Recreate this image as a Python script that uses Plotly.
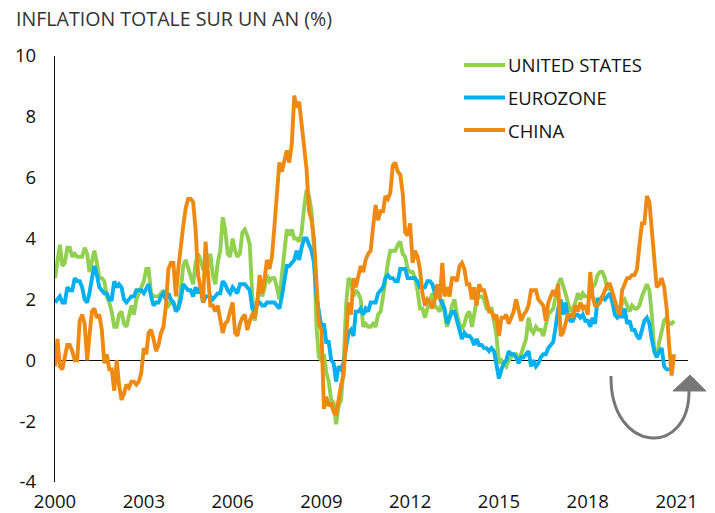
import pandas as pd
import plotly.graph_objects as go

# ---------------- data (monthly year-on-year CPI, %, Jan 2000 - Dec 2020) ----------------
months = pd.date_range("2000-01-01", periods=252, freq="MS")

united_states = [
    2.7, 3.2, 3.8, 3.1, 3.2, 3.7, 3.7, 3.4, 3.5, 3.4, 3.4, 3.4,
    3.7, 3.5, 2.9, 3.3, 3.6, 3.2, 2.7, 2.7, 2.6, 2.1, 1.9, 1.6,
    1.1, 1.1, 1.5, 1.6, 1.2, 1.1, 1.5, 1.8, 1.5, 2.0, 2.2, 2.4,
    2.6, 3.0, 3.0, 2.2, 2.1, 2.1, 2.1, 2.2, 2.3, 2.0, 1.8, 1.9,
    1.9, 1.7, 1.7, 2.3, 3.1, 3.3, 3.0, 2.7, 2.5, 3.2, 3.5, 3.3,
    3.0, 3.0, 3.1, 3.5, 2.8, 2.5, 3.2, 3.6, 4.7, 4.3, 3.5, 3.4,
    4.0, 3.6, 3.4, 3.5, 4.2, 4.3, 4.1, 3.8, 2.1, 1.3, 2.0, 2.5,
    2.1, 2.4, 2.8, 2.6, 2.7, 2.7, 2.4, 2.0, 2.8, 3.5, 4.3, 4.1,
    4.3, 4.0, 4.0, 3.9, 4.2, 5.0, 5.6, 5.4, 4.9, 3.7, 1.1, 0.1,
    0.0, 0.2, -0.4, -0.7, -1.3, -1.4, -2.1, -1.5, -1.3, -0.2, 1.8, 2.7,
    2.6, 2.1, 2.3, 2.2, 2.0, 1.1, 1.2, 1.1, 1.1, 1.2, 1.1, 1.5,
    1.6, 2.1, 2.7, 3.2, 3.6, 3.6, 3.6, 3.8, 3.9, 3.5, 3.4, 3.0,
    2.9, 2.9, 2.7, 2.3, 1.7, 1.7, 1.4, 1.7, 2.0, 2.2, 1.8, 1.7,
    1.6, 2.0, 1.5, 1.1, 1.4, 1.8, 2.0, 1.5, 1.2, 1.0, 1.2, 1.5,
    1.6, 1.1, 1.5, 2.0, 2.1, 2.1, 2.0, 1.7, 1.7, 1.7, 1.3, 0.8,
    -0.1, 0.0, -0.1, -0.2, 0.0, 0.1, 0.2, 0.2, 0.0, 0.2, 0.5, 0.7,
    1.4, 1.0, 0.9, 1.1, 1.0, 1.0, 0.8, 1.1, 1.5, 1.6, 1.7, 2.1,
    2.5, 2.7, 2.4, 2.2, 1.9, 1.6, 1.7, 1.9, 2.2, 2.0, 2.2, 2.1,
    2.1, 2.2, 2.4, 2.5, 2.8, 2.9, 2.9, 2.7, 2.3, 2.5, 2.2, 1.9,
    1.6, 1.5, 1.9, 2.0, 1.8, 1.6, 1.8, 1.7, 1.7, 1.8, 2.1, 2.3,
    2.5, 2.3, 1.5, 0.3, 0.1, 0.6, 1.0, 1.3, 1.4, 1.2, 1.2, 1.3,
]

eurozone = [
    1.9, 2.0, 2.1, 1.9, 1.9, 2.4, 2.3, 2.3, 2.7, 2.6, 2.6, 2.4,
    2.0, 1.9, 2.2, 2.7, 3.1, 2.8, 2.4, 2.3, 2.2, 2.2, 2.0, 2.0,
    2.6, 2.4, 2.5, 2.4, 2.0, 1.9, 2.0, 2.1, 2.1, 2.3, 2.3, 2.3,
    2.2, 2.4, 2.5, 2.1, 1.8, 1.9, 1.9, 2.1, 2.2, 2.0, 2.2, 2.0,
    1.9, 1.6, 1.7, 2.0, 2.5, 2.4, 2.3, 2.3, 2.1, 2.4, 2.2, 2.4,
    1.9, 2.1, 2.1, 2.1, 2.0, 2.1, 2.2, 2.2, 2.6, 2.5, 2.3, 2.2,
    2.4, 2.3, 2.2, 2.5, 2.5, 2.5, 2.4, 2.3, 1.7, 1.6, 1.9, 1.9,
    1.8, 1.8, 1.9, 1.9, 1.9, 1.9, 1.8, 1.7, 2.1, 2.6, 3.1, 3.1,
    3.2, 3.3, 3.6, 3.3, 3.7, 4.0, 4.0, 3.8, 3.6, 3.2, 2.1, 1.6,
    1.1, 1.2, 0.6, 0.6, 0.0, -0.1, -0.7, -0.2, -0.3, -0.1, 0.5, 0.9,
    1.0, 0.8, 1.6, 1.6, 1.7, 1.5, 1.7, 1.6, 1.9, 1.9, 1.9, 2.2,
    2.3, 2.4, 2.7, 2.8, 2.7, 2.7, 2.6, 2.6, 3.0, 3.0, 3.0, 2.7,
    2.7, 2.7, 2.7, 2.6, 2.4, 2.4, 2.4, 2.6, 2.6, 2.5, 2.2, 2.2,
    2.0, 1.8, 1.7, 1.2, 1.4, 1.6, 1.6, 1.3, 1.1, 0.7, 0.9, 0.8,
    0.8, 0.7, 0.5, 0.7, 0.5, 0.5, 0.4, 0.4, 0.3, 0.4, 0.3, -0.2,
    -0.6, -0.3, -0.1, 0.0, 0.3, 0.2, 0.2, 0.1, -0.1, 0.1, 0.1, 0.2,
    0.3, -0.2, 0.0, -0.2, -0.1, 0.1, 0.2, 0.2, 0.4, 0.5, 0.6, 1.1,
    1.7, 2.0, 1.5, 1.9, 1.4, 1.3, 1.3, 1.5, 1.5, 1.4, 1.5, 1.3,
    1.3, 1.1, 1.4, 1.2, 2.0, 2.0, 2.1, 2.0, 2.1, 2.2, 1.9, 1.5,
    1.4, 1.5, 1.4, 1.7, 1.2, 1.3, 1.0, 1.0, 0.8, 0.7, 1.0, 1.3,
    1.4, 1.2, 0.7, 0.3, 0.1, 0.3, 0.4, -0.2, -0.3, -0.3, -0.3, -0.3,
]

china = [
    -0.2, 0.7, -0.2, -0.3, 0.1, 0.5, 0.5, 0.3, 0.0, 0.0, 1.3, 1.5,
    1.2, 0.0, 0.8, 1.6, 1.7, 1.4, 1.5, 1.0, -0.1, 0.2, -0.3, -0.3,
    -1.0, 0.0, -0.8, -1.3, -1.1, -0.8, -0.9, -0.7, -0.7, -0.8, -0.7, -0.4,
    0.4, 0.2, 0.9, 1.0, 0.7, 0.3, 0.5, 0.9, 1.1, 1.8, 3.0, 3.2,
    3.2, 2.1, 3.0, 3.8, 4.4, 5.0, 5.3, 5.3, 5.2, 4.3, 2.8, 2.4,
    1.9, 3.9, 2.7, 1.8, 1.8, 1.6, 1.8, 1.3, 0.9, 1.2, 1.3, 1.6,
    1.9, 0.9, 0.8, 1.2, 1.4, 1.5, 1.0, 1.3, 1.5, 1.4, 1.9, 2.8,
    2.2, 2.7, 3.3, 3.0, 3.4, 4.4, 5.6, 6.5, 6.2, 6.5, 6.9, 6.5,
    7.1, 8.7, 8.3, 8.5, 7.7, 7.1, 6.3, 4.9, 4.6, 4.0, 2.4, 1.2,
    1.0, -1.6, -1.2, -1.5, -1.4, -1.7, -1.8, -1.2, -0.8, -0.5, 0.6, 1.9,
    1.5, 2.7, 2.4, 2.8, 3.1, 2.9, 3.3, 3.5, 3.6, 4.4, 5.1, 4.6,
    4.9, 4.9, 5.4, 5.3, 5.5, 6.4, 6.5, 6.2, 6.1, 5.5, 4.2, 4.1,
    4.5, 3.2, 3.6, 3.4, 3.0, 2.2, 1.8, 2.0, 1.9, 1.7, 2.0, 2.5,
    2.0, 3.2, 2.1, 2.4, 2.1, 2.7, 2.7, 2.6, 3.1, 3.2, 3.0, 2.5,
    2.5, 2.0, 2.4, 1.8, 2.5, 2.3, 2.3, 2.0, 1.6, 1.6, 1.4, 1.5,
    0.8, 1.4, 1.4, 1.5, 1.2, 1.4, 1.6, 2.0, 1.6, 1.3, 1.5, 1.6,
    1.8, 2.3, 2.3, 2.3, 2.0, 1.9, 1.8, 1.3, 1.9, 2.1, 2.3, 2.1,
    2.5, 0.8, 0.9, 1.2, 1.5, 1.5, 1.4, 1.8, 1.6, 1.9, 1.7, 1.8,
    1.5, 2.9, 2.1, 1.8, 1.8, 1.9, 2.1, 2.3, 2.5, 2.5, 2.2, 1.9,
    1.7, 1.5, 2.3, 2.5, 2.7, 2.7, 2.8, 2.8, 3.0, 3.8, 4.5, 4.5,
    5.4, 5.2, 4.3, 3.3, 2.4, 2.5, 2.7, 2.4, 1.7, 0.5, -0.5, 0.2,
]

series_names = ["UNITED STATES", "EUROZONE", "CHINA"]
series_values = [united_states, eurozone, china]
series_colors = ["#92D050", "#00B0F0", "#EE8A12"]

x_tick_years = [2000, 2003, 2006, 2009, 2012, 2015, 2018, 2021]
y_tick_values = [-4, -2, 0, 2, 4, 6, 8, 10]
title_text = "INFLATION TOTALE SUR UN AN (%)"

# ---------------- layout geometry ----------------
W, H = 715, 513
ML, MR, MT, MB = 55, 27, 56, 31
PW, PH = W - ML - MR, H - MT - MB
FONT = "Open Sans"
FS = 18.5


def px(xp):
    return (xp - ML) / PW


def py(yp):
    return (H - MB - yp) / PH


fig = go.Figure()
for name, vals, col in zip(series_names, series_values, series_colors):
    fig.add_trace(go.Scatter(x=months, y=vals, mode="lines", name=name,
                             line=dict(color=col, width=3.9),
                             showlegend=False, hoverinfo="skip"))

shapes = []
annotations = []

# manual legend
for i, (name, col) in enumerate(zip(series_names, series_colors)):
    yc = 65 + i * 32.5
    shapes.append(dict(type="line", xref="paper", yref="paper",
                       x0=px(464), x1=px(505), y0=py(yc), y1=py(yc),
                       line=dict(color=col, width=4)))
    annotations.append(dict(text=name, xref="paper", yref="paper",
                            x=px(506), y=py(yc), xanchor="left", yanchor="middle",
                            showarrow=False,
                            font=dict(family=FONT, size=FS, color="#111111")))

# title
annotations.append(dict(text=title_text, xref="paper", yref="paper",
                        x=px(14), y=py(19), xanchor="left", yanchor="middle",
                        showarrow=False,
                        font=dict(family=FONT, size=19.6, color="#333333")))

# curved rebound arrow


def P(xp, yp):
    return f"{px(xp):.5f},{py(yp):.5f}"


curve = f"M {P(611, 376)} C {P(610, 454)} {P(690, 458)} {P(689, 390)}"
shapes.append(dict(type="path", xref="paper", yref="paper", path=curve,
                   line=dict(color="#777777", width=3)))
head = f"M {P(673, 391)} L {P(690, 375)} L {P(706, 391)} Z"
shapes.append(dict(type="path", xref="paper", yref="paper", path=head,
                   fillcolor="#777777", line=dict(color="#777777", width=1)))

fig.update_layout(
    width=W, height=H,
    margin=dict(l=ML, r=MR, t=MT, b=MB, pad=0, autoexpand=False),
    paper_bgcolor="white", plot_bgcolor="white",
    font=dict(family=FONT, size=FS, color="#111111"),
    shapes=shapes, annotations=annotations,
    xaxis=dict(type="date", range=["2000-01-01", "2021-05-22"],
               tickvals=[f"{y}-01-01" for y in x_tick_years],
               ticktext=[str(y) for y in x_tick_years],
               showgrid=False, zeroline=False, showline=False, ticks="",
               ticklabelstandoff=6, automargin=False,
               tickfont=dict(family=FONT, size=FS, color="#111111")),
    yaxis=dict(range=[-4, 10], tickvals=y_tick_values,
               ticktext=[str(v) for v in y_tick_values],
               showgrid=False, zeroline=True, zerolinecolor="#111111",
               zerolinewidth=1.3, showline=True, linecolor="#111111",
               linewidth=1.3, ticks="", ticklabelstandoff=14, automargin=False,
               tickfont=dict(family=FONT, size=FS, color="#111111")),
)

fig.write_html("out.html",
               config={"displayModeBar": False},
               post_script="document.body.style.margin='0';document.body.style.overflow='hidden';")
